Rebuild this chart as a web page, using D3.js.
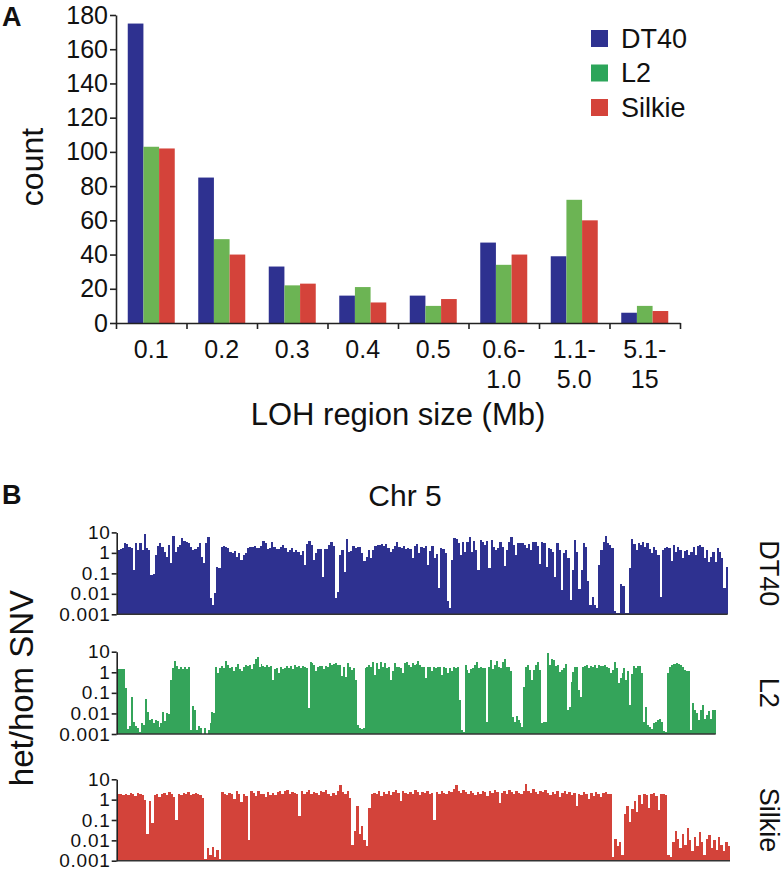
<!DOCTYPE html>
<html><head><meta charset="utf-8">
<script src="https://cdn.jsdelivr.net/npm/d3@7"></script>
<style>
html,body{margin:0;padding:0;background:#fff;}
svg text{font-family:"Liberation Sans",Arial,Helvetica,sans-serif;fill:#111;}
</style></head><body>
<svg id="chart" width="784" height="872"></svg>
<script>
// ---------- Panel A data ----------
const categories = [["0.1"],["0.2"],["0.3"],["0.4"],["0.5"],["0.6-","1.0"],["1.1-","5.0"],["5.1-","15"]];
const series = ["DT40","L2","Silkie"];
const dt40Counts   = [175, 85, 33, 16, 16, 47, 39, 6];
const l2Counts     = [103, 49, 22, 21, 10, 34, 72, 10];
const silkieCounts = [102, 40, 23, 12, 14, 40, 60, 7];
const countTicks = [0,20,40,60,80,100,120,140,160,180];

// ---------- Panel B data (het/hom SNV ratio per bin along Chr 5) ----------
const ratioTicks = [10,1,0.1,0.01,0.001];
const dt40Ratio = [
 1.4,1.5,1.7,3.2,2.6,2.0,1.7,0.14,2.9,1.4, 2.9,1.4,8,1.7,1.4,0.083,0.09,0.78,2.2,2.9,
 2.0,1.15,0.65,2.4,0.31,7,1.15,2.0,2.4,5.3, 3.8,3.5,2.9,2.0,1.4,1.6,2.0,2.9,0.65,0.31,
 2.9,6,0.006,0.0029,0.0105,0.2,0.18,2.0,2.2,1.9, 1.7,1.15,0.95,1.3,0.65,0.95,0.45,0.78,0.95,1.7,
 1.9,2.0,2.2,1.7,1.8,2.2,3.8,2.9,1.6,1.7, 3.5,2.0,1.5,1.6,2.0,2.4,1.7,1.15,1.4,1.7,
 1.15,1.4,1.15,0.78,1.3,0.25,2.6,4,2.4,0.45, 0.95,1.6,
 1.5,0.07,1.6,1.6,2.4,3.3,2.2,0.006,0.012,0.8, 1.4,0.12,4.7,1.15,1.2,2.2,1.7,1.9,1.9,0.95,
 0.4,0.65,1.4,0.55,1.4,2.2,2.4,2.3,2.6,2.2, 2.6,1.7,1.05,1.5,2.2,3.5,2.0,1.7,2.2,1.5,
 1.7,1.5,0.55,2.2,2.6,0.95,2.0,1.7,2.2,0.25, 1.3,2.2,0.55,0.85,0.02,1.7,1.5,0.95,0.0045,0.002,
 0.45,5.5,4.7,3.0,0.8,3.3,1.15,3.3,6,1.15, 3.7,1.4,0.15,4.2,3.3,2.4,3.7,0.18,4.2,2.0,
 1.4,1.7,3.3,2.0,0.22,1.4,3.3,6,2.4,0.8, 2.9,3.2,3.2,
 2.4,1.7,2.6,1.45,3.3,3.5,2.2,0.28,3.5,2.9, 0.21,1.7,1.5,1.15,0.07,2.9,1.4,0.015,0.95,1.4,
 0.55,0.005,0.15,4.2,1.15,0.018,0.15,2.9,2.0,0.04, 0.003,0.007,0.003,0.002,0.25,1.4,3.3,7,2.9,2.4,
 1.7,
 0.0015,0.0012,0.0012,0.03,0.025,0.0012,0.0012,
 0.18,4.7,2.8,1.4,2.9,2.4,3.5,2.0,2.9,1.6, 0.95,2.0,1.4,0.78,0.007,1.4,1.7,2.0,1.7,0.4,
 2.4,1.15,2.0,1.4,0.55,1.2,1.4,0.78,1.15,2.0, 0.78,2.1,2.5,2.0,0.55,1.4,0.35,0.65,1.15,0.35,
 1.7,1.15,0.55,0.02,0.21
];
const l2Ratio = [
 1.4,1.5,1.4,1.4,0.17,0.0017,0.0025,0.065,0.004,0.0025, 0.002,0.0013,0.0033,0.0027,0.05,0.012,0.005,0.0055,0.0033,0.005,
 0.0043,0.0023,0.0033,0.012,0.0043,0.011,0.009,0.42,1.6,3.7, 2.0,1.5,1.8,1.5,1.8,1.5,1.8,0.0016,0.023,0.015,
 0.0015,0.0025,0.002,0.001,0.0019,0.001,0.0016,0.0033,0.012,0.01, 1.87,0.89,1.7,2.0,1.7,3.7,2.2,1.7,1.87,
 1.1,1.8,2.4,1.5,1.1,1.8,2.2,2.0,2.2,1.4, 2.4,4.2,5.3,1.8,2.4,2.0,1.87,2.2,1.8,2.0,
 0.42,1.5,1.7,0.89,1.8,1.5,1.7,2.0,1.7,2.0, 1.5,2.2,1.8,2.0,1.7,2.0,1.8,1.7,0.018,3.0,
 2.7,2.2,1.2,1.8,2.0,2.1,
 1.5,2.0,1.87,2.7,2.2,2.4,2.7,2.2,2.2,0.65, 1.87,0.6,2.7,1.9,1.3,1.55,0.42,0.0028,0.002,0.0017,
 0.0019,1.55,1.87,2.2,1.8,3.3,0.75,2.7,1.4,3.3, 1.9,2.7,1.7,1.9,0.42,1.1,2.7,1.87,1.9,1.55,
 0.89,2.7,3.0,2.2,1.9,2.7,2.2,2.4,3.7,2.2, 1.9,1.87,0.5,1.87,1.9,1.1,1.87,1.7,1.9,1.87,
 0.7,1.87,1.55,0.89,1.7,1.1,1.9,1.7,1.87,0.045, 0.0016,0.0013,2.2,1.3,0.89,1.45,1.55,2.2,3.3,1.55,
 1.87,1.55,1.7,0.004,1.87,4.0,1.45,2.2,3.7,1.9, 1.55,3.3,4.6,1.9,1.87,1.1,0.0067,0.004,0.0075,0.005,
 0.0033,0.0023,0.2,
 1.87,2.2,1.3,0.42,1.3,2.2,3.3,1.3,0.0033,0.0037, 0.004,9,2.2,4.6,3.9,2.0,2.2,1.0,1.3,1.55,
 2.4,0.015,0.021,0.35,1.0,1.87,1.87,0.14,0.065,1.87, 2.0,2.2,1.55,2.0,1.87,2.2,1.6,2.2,2.0,2.0,
 2.2,1.87,1.55,0.89,1.3,3.3,1.55,0.29,0.5,0.89, 1.55,0.42,1.1,0.027,0.8,2.0,1.7,2.0,2.0,0.89,
 0.004,0.021,0.0028,0.0023,0.0017,0.0033,0.004,0.0048,0.0055,0.0038, 0.0014,0.0012,0.89,1.87,2.2,2.4,2.6,2.7,2.6,2.2,
 1.87,1.3,1.1,1.1,0.0016,0.031,0.015,0.01,0.0048,0.015, 0.025,0.0055,0.0085,0.013,0.0055,0.015,0.015
];
const silkieRatio = [
 1.8,2.0,1.7,1.9,1.6,2.1,1.8,1.5,2.2,1.9, 1.6,1.0,0.02,0.9,0.07,1.6,1.9,1.4,1.8,2.2,
 1.7,2.4,1.9,1.3,0.1,2.0,1.6,2.2,1.8,2.5, 1.6,2.0,2.2,1.9,1.7,1.2,
 0.0012,0.004,0.002,0.0045,0.0015,0.0035,0.0012,
 2.5,2.0,1.6,2.2,1.8,1.1,2.6,1.9,0.8,2.0, 1.5,0.01,2.8,2.2,1.5,2.6,1.9,2.0,1.4,2.4,
 1.7,2.1,1.6,2.3,2.7,2.0,2.6,2.9,1.8,2.4, 2.2,1.9,0.15,2.6,2.0,2.4,2.9,1.9,2.5,2.1,
 1.6,2.8,2.3,3.0,2.0,1.5,2.2,1.7,2.6,5.5, 2.4,1.8,2.6,
 1.2,0.006,0.03,0.5,0.02,0.05,0.01,0.005,0.4,1.8,
 2.2,1.9,2.6,1.5,2.3,2.0,2.8,1.7,2.4,3.0, 2.1,0.9,2.6,2.2,1.8,2.5,2.0,2.9,2.3,1.6,
 2.4,2.1,2.7,1.9,2.2,0.1,
 2.5,2.0,2.8,2.2,1.8,2.6,2.4,3.2,5.0,2.6, 2.1,2.9,2.4,1.9,2.7,2.2,1.7,2.5,2.0,2.8,
 2.3,1.5,2.6,2.1,2.9,2.4,0.7,2.2,2.7,2.0, 3.1,2.4,1.8,2.6,2.2,1.9,2.8,
 6.0,2.7,2.2,3.3,2.5,1.9,2.8,2.3,2.9,2.1, 1.6,2.5,2.0,2.7,1.3,2.2,2.6,1.9,2.4,1.7,
 2.2,0.5,2.0,1.6,2.3,1.8,1.1,2.1,1.5,2.4, 1.9,1.4,2.2,2.5,1.8,2.0,
 0.0015,0.012,0.005,0.008,0.002,
 0.2,0.5,0.08,0.35,0.9,0.25,1.6,0.6,2.0,1.7, 0.4,1.9,2.2,1.5,0.3,1.8,2.0,1.6,
 0.002,0.0015,0.008,0.03,0.012,0.004,0.02,0.006,0.04,0.01, 0.003,0.015,0.005,0.025,0.008,0.002,0.012,0.018,0.004,0.01,
 0.0035,0.015,0.006,0.003,0.008,0.005
];

// ---------- drawing ----------
const svg = d3.select("#chart");
const FONT = '"Liberation Sans",Arial,Helvetica,sans-serif';
const AXIS = "#222";
function styleAxis(g, fs){
  g.attr("font-family", FONT).attr("font-size", fs);
  g.selectAll("path,line").attr("stroke", AXIS).attr("stroke-width", 1.6);
  g.selectAll("text").attr("fill", "#111");
}

// Panel A
const ax0 = 116, ax1 = 680, ayBase = 323, ayTop = 15;
const xCat = d3.scaleBand().domain(d3.range(categories.length)).range([ax0, ax1]).paddingInner(1/3).paddingOuter(1/6);
const xSub = d3.scaleBand().domain(series).range([0, xCat.bandwidth()]);
const xEdge = d3.scaleLinear().domain([0, categories.length]).range([ax0, ax1]);
const yCount = d3.scaleLinear().domain([0, 180]).range([ayBase, ayTop]);
const countsBySeries = {DT40: dt40Counts, L2: l2Counts, Silkie: silkieCounts};
const barColorsA = {DT40: "#2e3190", L2: "#6cb454", Silkie: "#d4433a"};
const legendColors = {DT40: "#2e3190", L2: "#2ca55a", Silkie: "#d4433a"};

const gA = svg.append("g");
series.forEach(s => {
  gA.append("g").selectAll("rect").data(countsBySeries[s]).join("rect")
    .attr("x", (d, i) => xCat(i) + xSub(s))
    .attr("width", xSub.bandwidth())
    .attr("y", d => yCount(d))
    .attr("height", d => ayBase - yCount(d))
    .attr("fill", barColorsA[s]);
});
styleAxis(gA.append("g").attr("transform", `translate(${ax0},0)`)
  .call(d3.axisLeft(yCount).tickValues(countTicks).tickSize(6).tickPadding(2).tickSizeOuter(0)), 25);
styleAxis(gA.append("g").attr("transform", `translate(0,${ayBase})`)
  .call(d3.axisBottom(xEdge).tickValues(d3.range(categories.length + 1)).tickSize(6).tickSizeOuter(0).tickFormat("")), 25);

categories.forEach((lines, i) => {
  lines.forEach((ln, j) => {
    gA.append("text").attr("x", xCat(i) + xCat.bandwidth() / 2).attr("y", 358 + j * 30)
      .attr("text-anchor", "middle").style("font-size", "25px").text(ln);
  });
});
gA.append("text").attr("x", 398).attr("y", 425).attr("text-anchor", "middle")
  .style("font-size", "31px").text("LOH region size (Mb)");
gA.append("text").attr("transform", "translate(42.5,167) rotate(-90)").attr("text-anchor", "middle")
  .style("font-size", "32px").text("count");
gA.append("text").attr("x", 2).attr("y", 26).style("font-size", "27px").style("font-weight", "bold").text("A");

// legend
const lg = gA.append("g");
series.forEach((s, i) => {
  lg.append("rect").attr("x", 591).attr("y", 30 + i * 34.5).attr("width", 17).attr("height", 17).attr("fill", legendColors[s]);
  lg.append("text").attr("x", 621).attr("y", 47.5 + i * 34.5).style("font-size", "27px").text(s);
});

// Panel B
const gB = svg.append("g");
gB.append("text").attr("x", 2).attr("y", 504).style("font-size", "27px").style("font-weight", "bold").text("B");
gB.append("text").attr("x", 405).attr("y", 506).attr("text-anchor", "middle").style("font-size", "30px").text("Chr 5");
gB.append("text").attr("transform", "translate(33,688) rotate(-90)").attr("text-anchor", "middle")
  .style("font-size", "33px").text("het/hom SNV");

const tracks = [
  {name: "DT40",   values: dt40Ratio,   color: "#2e3190", x0: 117.5, x1: 727.7, top: 532.4, base: 614.3},
  {name: "L2",     values: l2Ratio,     color: "#34a45a", x0: 117.3, x1: 715.7, top: 651.7, base: 734},
  {name: "Silkie", values: silkieRatio, color: "#d3433a", x0: 117.5, x1: 730,   top: 779.3, base: 860.7}
];
tracks.forEach(t => {
  const g = gB.append("g");
  const x = d3.scaleBand().domain(d3.range(t.values.length)).range([t.x0, t.x1]);
  const y = d3.scaleLog().domain([0.001, 10]).range([t.base, t.top]).clamp(true);
  const bw = x.bandwidth();
  g.append("g").attr("shape-rendering", "crispEdges")
    .selectAll("rect").data(t.values).join("rect")
    .attr("x", (d, i) => Math.round(x(i)))
    .attr("width", (d, i) => Math.round(x(i) + bw) - Math.round(x(i)))
    .attr("y", d => y(d)).attr("height", d => t.base - y(d)).attr("fill", t.color);
  g.append("line").attr("x1", 116.7).attr("x2", t.x1).attr("y1", t.base).attr("y2", t.base)
    .attr("stroke", "#333").attr("stroke-width", 1.6);
  const axg = g.append("g").attr("transform", "translate(116.7,0)")
    .call(d3.axisLeft(y).tickValues(ratioTicks).tickFormat(d3.format("~g")).tickSize(5).tickPadding(1).tickSizeOuter(0));
  styleAxis(axg, 19);
  axg.selectAll("text").attr("letter-spacing", "0.8px");
  g.append("text").attr("transform", `translate(760,${(t.top + t.base) / 2}) rotate(90)`)
    .attr("text-anchor", "middle").style("font-size", "27px").text(t.name);
});
</script>
</body></html>
